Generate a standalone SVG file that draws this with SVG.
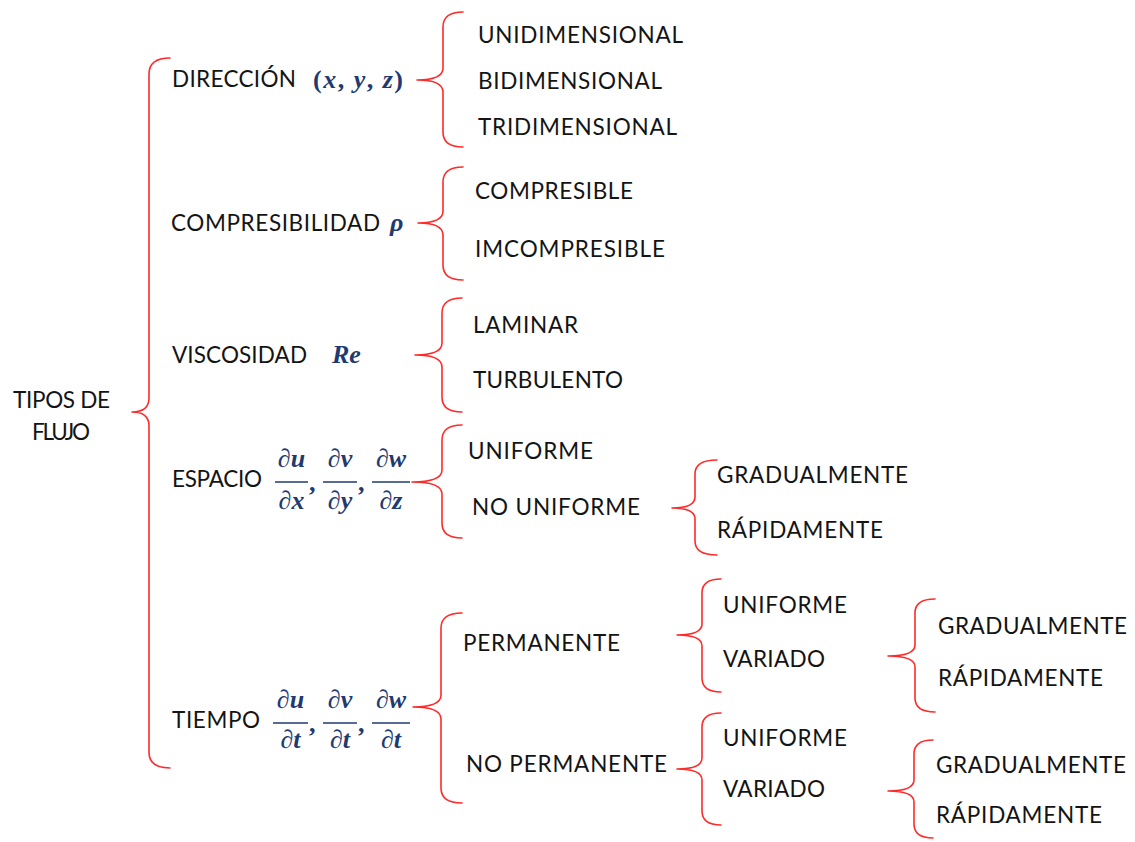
<svg xmlns="http://www.w3.org/2000/svg" width="1135" height="842" viewBox="0 0 1135 842">
<style>
.t{font-family:Lato,"Liberation Sans",Arial,sans-serif;font-size:22.5px;fill:#141414}
.m{font-family:"Liberation Serif","DejaVu Serif",serif;font-size:26px;font-weight:bold;fill:#1F3A70}
.mi{font-style:italic}
.fl{stroke:#1F3A70;stroke-width:1.4}
.br{fill:none;stroke:#FF2A2A;stroke-width:1.6;stroke-linecap:round;stroke-linejoin:round}
</style>
<rect width="1135" height="842" fill="#ffffff"/>
<g id="connectors">
<path class="br" d="M170,58 Q149,58 149,74 L149,398 Q149,412 132,412 Q149,412 149,426 L149,752 Q149,768 170,768"/>
<path class="br" d="M463,12 Q443,12 443,27 L443,68 Q443,80 417,80 Q443,80 443,92 L443,132 Q443,147 463,147"/>
<path class="br" d="M463,167 Q443,167 443,182 L443,211 Q443,223 418,223 Q443,223 443,235 L443,265 Q443,280 463,280"/>
<path class="br" d="M462,298 Q442,298 442,313 L442,343 Q442,355 415,355 Q442,355 442,367 L442,397 Q442,412 462,412"/>
<path class="br" d="M462,425 Q442,425 442,440 L442,470 Q442,482 412,482 Q442,482 442,494 L442,523 Q442,538 462,538"/>
<path class="br" d="M717,460 Q695,460 695,474 L695,497 Q695,508 672,508 Q695,508 695,519 L695,541 Q695,555 717,555"/>
<path class="br" d="M462,613 Q441,613 441,628 L441,695 Q441,707 413,707 Q441,707 441,719 L441,788 Q441,803 462,803"/>
<path class="br" d="M721,579 Q702,579 702,593 L702,624 Q702,635 677,635 Q702,635 702,646 L702,678 Q702,692 721,692"/>
<path class="br" d="M721,713 Q702,713 702,727 L702,758 Q702,769 677,769 Q702,769 702,780 L702,811 Q702,825 721,825"/>
<path class="br" d="M935,599 Q915,599 915,613 L915,645 Q915,656 888,656 Q915,656 915,667 L915,698 Q915,712 935,712"/>
<path class="br" d="M933,740 Q914,740 914,754 L914,780 Q914,791 888,791 Q914,791 914,802 L914,824 Q914,838 933,838"/>
</g>
<g id="root">
<text class="t" x="13" y="408" textLength="97">TIPOS DE</text>
<text class="t" x="32" y="440" textLength="58">FLUJO</text>
</g>
<g id="direccion">
<text class="t" x="172" y="87" textLength="124">DIRECCIÓN</text>
<text class="m" x="313" y="88" textLength="90">(<tspan class="mi">x</tspan>, <tspan class="mi">y</tspan>, <tspan class="mi">z</tspan>)</text>
</g>
<g id="unidimensional"><text class="t" x="478" y="43" textLength="205">UNIDIMENSIONAL</text></g>
<g id="bidimensional"><text class="t" x="478" y="89" textLength="184">BIDIMENSIONAL</text></g>
<g id="tridimensional"><text class="t" x="478" y="135" textLength="199">TRIDIMENSIONAL</text></g>
<g id="compresibilidad">
<text class="t" x="171" y="231" textLength="209">COMPRESIBILIDAD</text>
<text class="m mi" x="390" y="231">ρ</text>
</g>
<g id="compresible"><text class="t" x="475" y="199" textLength="158">COMPRESIBLE</text></g>
<g id="imcompresible"><text class="t" x="475" y="257" textLength="190">IMCOMPRESIBLE</text></g>
<g id="viscosidad">
<text class="t" x="172" y="363" textLength="135">VISCOSIDAD</text>
<text class="m mi" x="332" y="363">Re</text>
</g>
<g id="laminar"><text class="t" x="473" y="333" textLength="105">LAMINAR</text></g>
<g id="turbulento"><text class="t" x="473" y="388" textLength="150">TURBULENTO</text></g>
<g id="espacio">
<text class="t" x="172" y="487" textLength="90">ESPACIO</text>
<text class="m" x="291.5" y="467" text-anchor="middle">∂<tspan class="mi">u</tspan></text>
<line class="fl" x1="275" y1="482" x2="308" y2="482"/>
<text class="m" x="291.5" y="509" text-anchor="middle">∂<tspan class="mi">x</tspan></text>
<text class="m" x="309" y="491">,</text>
<text class="m" x="340" y="467" text-anchor="middle">∂<tspan class="mi">v</tspan></text>
<line class="fl" x1="323" y1="482" x2="357" y2="482"/>
<text class="m" x="340" y="509" text-anchor="middle">∂<tspan class="mi">y</tspan></text>
<text class="m" x="358" y="491">,</text>
<text class="m" x="391" y="467" text-anchor="middle">∂<tspan class="mi">w</tspan></text>
<line class="fl" x1="372" y1="482" x2="410" y2="482"/>
<text class="m" x="391" y="509" text-anchor="middle">∂<tspan class="mi">z</tspan></text>
</g>
<g id="uniforme1"><text class="t" x="468" y="459" textLength="125">UNIFORME</text></g>
<g id="nouniforme"><text class="t" x="472" y="515" textLength="168">NO UNIFORME</text></g>
<g id="gradual1"><text class="t" x="717" y="483" textLength="191">GRADUALMENTE</text></g>
<g id="rapido1"><text class="t" x="717" y="538" textLength="166">RÁPIDAMENTE</text></g>
<g id="tiempo">
<text class="t" x="172" y="728" textLength="88">TIEMPO</text>
<text class="m" x="290.5" y="708" text-anchor="middle">∂<tspan class="mi">u</tspan></text>
<line class="fl" x1="273" y1="723" x2="308" y2="723"/>
<text class="m" x="290.5" y="748" text-anchor="middle">∂<tspan class="mi">t</tspan></text>
<text class="m" x="309" y="732">,</text>
<text class="m" x="340" y="708" text-anchor="middle">∂<tspan class="mi">v</tspan></text>
<line class="fl" x1="323" y1="723" x2="357" y2="723"/>
<text class="m" x="340" y="748" text-anchor="middle">∂<tspan class="mi">t</tspan></text>
<text class="m" x="358" y="732">,</text>
<text class="m" x="391" y="708" text-anchor="middle">∂<tspan class="mi">w</tspan></text>
<line class="fl" x1="372" y1="723" x2="410" y2="723"/>
<text class="m" x="391" y="748" text-anchor="middle">∂<tspan class="mi">t</tspan></text>
</g>
<g id="permanente"><text class="t" x="463" y="651" textLength="157">PERMANENTE</text></g>
<g id="nopermanente"><text class="t" x="466" y="772" textLength="201">NO PERMANENTE</text></g>
<g id="uniforme2"><text class="t" x="723" y="613" textLength="124">UNIFORME</text></g>
<g id="variado1"><text class="t" x="723" y="667" textLength="102">VARIADO</text></g>
<g id="uniforme3"><text class="t" x="723" y="746" textLength="124">UNIFORME</text></g>
<g id="variado2"><text class="t" x="723" y="797" textLength="102">VARIADO</text></g>
<g id="gradual2"><text class="t" x="938" y="634" textLength="189">GRADUALMENTE</text></g>
<g id="rapido2"><text class="t" x="938" y="686" textLength="165">RÁPIDAMENTE</text></g>
<g id="gradual3"><text class="t" x="936" y="773" textLength="190">GRADUALMENTE</text></g>
<g id="rapido3"><text class="t" x="936" y="823" textLength="166">RÁPIDAMENTE</text></g>
</svg>
